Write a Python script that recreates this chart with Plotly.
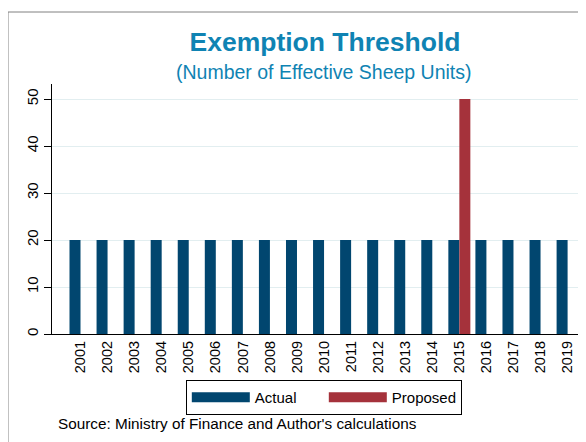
import plotly.graph_objects as go

# Datos
anios = list(range(2001, 2020))
actual = [20] * 19
propuesto = [None] * 14 + [50] + [None] * 4
etiquetas = [str(a) for a in anios]

azul = "#01466f"
rojo = "#a5323b"
fuente = "Liberation Sans"

fig = go.Figure()
fig.add_trace(
    go.Bar(
        x = anios,
        y = actual,
        name = "Actual",
        marker_color = azul,
        marker_line_width = 0,
        showlegend = False
        )
    )
fig.add_trace(
    go.Bar(
        x = anios,
        y = propuesto,
        name = "Proposed",
        marker_color = rojo,
        marker_line_width = 0,
        showlegend = False
        )
    )
# entradas de leyenda (rectángulos anchos, estilo Stata)
for nombre, color in [("Actual", azul), ("Proposed", rojo)]:
    fig.add_trace(
        go.Scatter(
            x = [None],
            y = [None],
            name = nombre,
            mode = "lines",
            line = dict(color = color, width = 16)
            )
        )

# la página tiene 8 px de margen: figura de 578x434
fig.update_layout(
    width = 578,
    height = 434,
    margin = dict(l = 44, r = 0, t = 76, b = 108),
    paper_bgcolor = "white",
    plot_bgcolor = "white",
    font = dict(family = fuente, color = "black"),
    barmode = "group",
    bargap = 0.187,
    bargroupgap = 0,
    title = dict(
        text = "<b>Exemption Threshold</b>",
        font = dict(size = 26.5, color = "#0f83b3", family = fuente),
        x = 317 / 578,
        xanchor = "center",
        xref = "container",
        y = 1 - 34 / 434,
        yanchor = "middle",
        yref = "container"
    ),
    xaxis = dict(
        range = [1999.947, 2019.68],
        tickvals = anios,
        ticktext = etiquetas,
        tickangle = -90,
        tickfont = dict(size = 14.5),
        ticks = "",
        showgrid = False,
        showline = True,
        linecolor = "black",
        linewidth = 1.3,
        zeroline = False
    ),
    yaxis = dict(
        range = [0, 53.2],
        tickvals = [0, 10, 20, 30, 40, 50],
        tickangle = -90,
        tickfont = dict(size = 15),
        ticks = "outside",
        ticklen = 7,
        tickcolor = "black",
        showline = True,
        linecolor = "black",
        linewidth = 1.3,
        gridcolor = "#e2eef0",
        gridwidth = 1,
        zeroline = False
    ),
    legend = dict(
        orientation = "h",
        x = 0.509,
        xanchor = "center",
        y = -0.184,
        yanchor = "top",
        bordercolor = "black",
        borderwidth = 1,
        font = dict(size = 15),
        itemwidth = 58,
        entrywidth = 64
    ),
    annotations = [
        dict(
            text = "(Number of Effective Sheep Units)",
            xref = "paper", yref = "paper",
            x = 0.509, y = (334 - 72) / 250,
            xanchor = "center", yanchor = "middle",
            showarrow = False,
            font = dict(size = 19.5, color = "#0f83b3")
        ),
        dict(
            text = "Source: Ministry of Finance and Author's calculations",
            xref = "paper", yref = "paper",
            x = 0.0075, y = -0.36,
            xanchor = "left", yanchor = "middle",
            showarrow = False,
            font = dict(size = 15.3)
        )
    ],
    shapes = [
        dict(
            type = "rect",
            xref = "paper", yref = "paper",
            x0 = -0.0824, x1 = 1.2,
            y0 = 1.288, y1 = -0.6,
            line = dict(color = "#808080", width = 1)
        )
    ]
)

fig.write_html("out.html")
